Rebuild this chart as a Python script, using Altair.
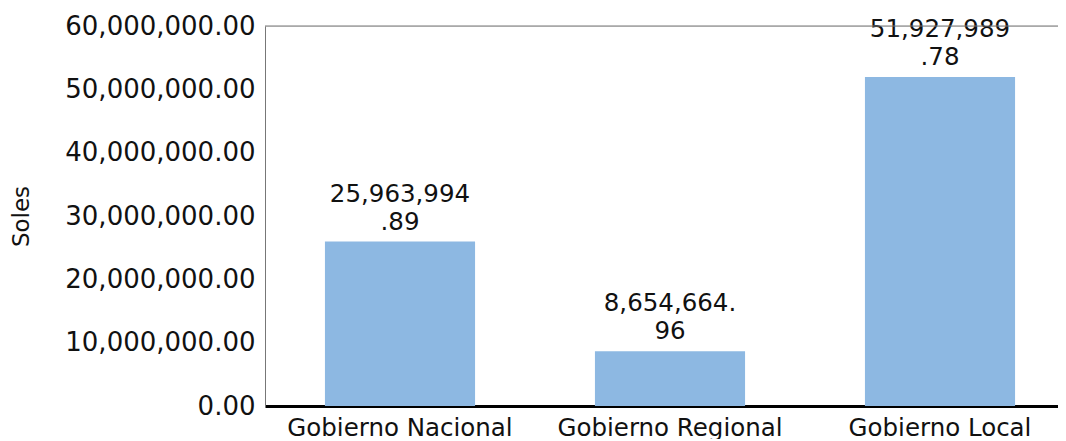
import altair as alt
import pandas as pd

categories = ["Gobierno Nacional", "Gobierno Regional", "Gobierno Local"]
values = [25963994.89, 8654664.96, 51927989.78]
y_ticks = [0, 10000000, 20000000, 30000000, 40000000, 50000000, 60000000]

def wrap(v):
    s = f"{v:,.2f}"
    return s[:10] + "\n" + s[10:]

df = pd.DataFrame({
    "cat": categories,
    "val": values,
    "label": [wrap(v) for v in values],
})

FONT = "DejaVu Sans"
W = 793
H = 380

x_enc = alt.X("cat:N", sort=categories, title=None,
              scale=alt.Scale(range=[0, 810], paddingInner=0.444, paddingOuter=0.222),
              axis=alt.Axis(labelAngle=0, labelFont=FONT, labelFontSize=24.5, labelColor="#111",
                            labelLimit=0, domainColor="#000", domainWidth=3, ticks=False,
                            labelPadding=10))
y_enc = alt.Y("val:Q", title="Soles",
              scale=alt.Scale(domain=[0, 60000000], nice=False),
              axis=alt.Axis(values=y_ticks, format=",.2f", grid=False, ticks=False,
                            labelFont=FONT, labelFontSize=26, labelColor="#111", labelPadding=10,
                            labelLimit=0, domainColor="#777", domainWidth=1,
                            titleFont=FONT, titleFontSize=23, titleFontWeight="normal",
                            titleColor="#111", titlePadding=32))

base = alt.Chart(df)

bars = base.mark_bar(color="#8DB8E2").encode(x=x_enc, y=y_enc)

labels = base.mark_text(font=FONT, fontSize=24.5, color="#111", baseline="bottom",
                        lineBreak="\n", lineHeight=28, dy=-35).encode(
    x=alt.X("cat:N", sort=categories), y="val:Q", text="label:N")

top_line = alt.Chart(pd.DataFrame({"a": [0]})).mark_rule(color="#777", strokeWidth=1).encode(
    x=alt.value(0), x2=alt.value(810), y=alt.value(0))

chart = alt.layer(bars, labels, top_line).properties(
    width=W, height=H,
    autosize=alt.AutoSizeParams(type="none"),
    padding={"left": 257, "top": 18, "right": 0, "bottom": 33},
).configure_view(stroke=None).configure(background="white")

chart.save("out.html", embed_options={"renderer": "svg", "actions": False})
